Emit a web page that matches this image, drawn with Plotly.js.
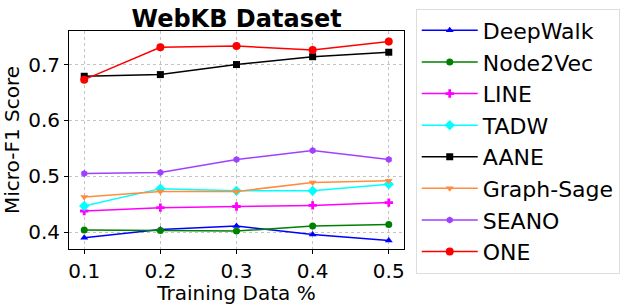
<!DOCTYPE html>
<html><head><meta charset="utf-8">
<script src="https://cdn.plot.ly/plotly-3.0.1.min.js"></script>
<style>html,body{margin:0;padding:0;background:#fff}#c{width:631px;height:305px}</style>
</head><body><div id="c"></div>
<script>
const xs = [0.1, 0.2, 0.3, 0.4, 0.5];
const names = ["DeepWalk","Node2Vec","LINE","TADW","AANE","Graph-Sage","SEANO","ONE"];
const deepwalk  = [0.390, 0.405, 0.411, 0.396, 0.385];
const node2vec  = [0.404, 0.403, 0.402, 0.411, 0.414];
const line_     = [0.438, 0.444, 0.446, 0.448, 0.453];
const tadw      = [0.447, 0.478, 0.474, 0.474, 0.486];
const aane      = [0.679, 0.682, 0.700, 0.714, 0.722];
const graphsage = [0.463, 0.473, 0.473, 0.489, 0.492];
const seano     = [0.505, 0.507, 0.530, 0.546, 0.530];
const one       = [0.673, 0.731, 0.733, 0.726, 0.741];
const series = [deepwalk,node2vec,line_,tadw,aane,graphsage,seano,one];
const colors = ["#0000ff","#008000","#ff00ff","#00ffff","#000000","#ff8c3f","#a040ff","#ff0000"];
const symbols = ["triangle-up","circle","cross","diamond","square","triangle-down","hexagon","circle"];
const sizes = [7,7,7,8,7,7,7,8];
const xTicks = [0.1,0.2,0.3,0.4,0.5];
const yTicks = [0.4,0.5,0.6,0.7];

const traces = series.map((v,i)=>({
  x: xs, y: v, name: names[i], type:'scatter', mode:'lines+markers',
  legendgroup: 'g'+i,
  line:{color:colors[i], width:1.5},
  marker:{color:colors[i], symbol:symbols[i], size:sizes[i], line:{width:0}}
}));

const font = {family:'DejaVu Sans', size:20, color:'#000'};
const layout = {
  width:631, height:305,
  margin:{l:69, r:227, t:31, b:56, autoexpand:false},
  paper_bgcolor:'#fff', plot_bgcolor:'#fff',
  font: font,
  showlegend:true,
  title:{text:'<b>WebKB Dataset</b>', font:{family:'DejaVu Sans', size:24, color:'#000'},
         x:0.375, xref:'container', xanchor:'center', y:0.94, yref:'container', yanchor:'middle'},
  xaxis:{range:[0.08,0.52], tickvals:xTicks, ticktext:xTicks.map(v=>v.toFixed(1)),
         showgrid:true, gridcolor:'#c4c4c4', griddash:'dot', gridwidth:1,
         showline:true, linecolor:'#000', linewidth:1, mirror:true,
         ticks:'outside', ticklen:4, tickcolor:'#000', zeroline:false, automargin:false,
         tickfont:{family:'DejaVu Sans', size:20},
         title:{text:'Training Data %', font:{family:'DejaVu Sans', size:20}, standoff:6}},
  yaxis:{range:[0.370,0.760], tickvals:yTicks, ticktext:yTicks.map(v=>v.toFixed(1)),
         showgrid:true, gridcolor:'#c4c4c4', griddash:'dot', gridwidth:1,
         showline:true, linecolor:'#000', linewidth:1, mirror:true,
         ticks:'outside', ticklen:4, tickcolor:'#000', zeroline:false, automargin:false,
         tickfont:{family:'DejaVu Sans', size:20},
         title:{text:'Micro-F1 Score', font:{family:'DejaVu Sans', size:20}, standoff:6}},
  legend:{x:1.035, xanchor:'left', y:1.103, yanchor:'top', maxheight:300,
          bgcolor:'#fff', bordercolor:'#dddddd', borderwidth:1,
          font:{family:'DejaVu Sans', size:22}, traceorder:'grouped', tracegroupgap:0,
          itemwidth:56}
};
Plotly.newPlot('c', traces, layout, {staticPlot:true, displayModeBar:false});
</script></body></html>
